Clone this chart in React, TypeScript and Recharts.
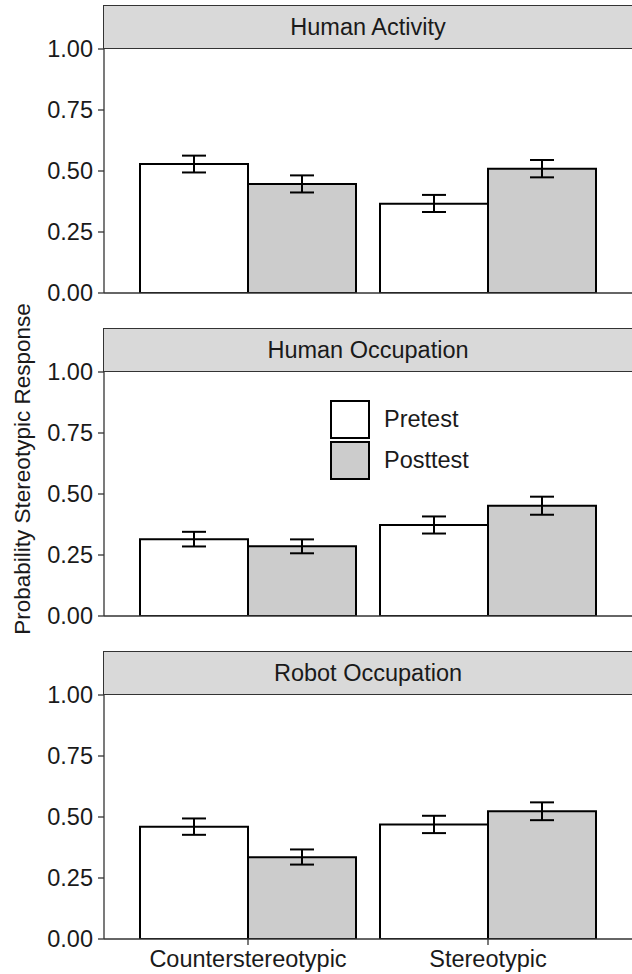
import { BarChart, Bar, XAxis, YAxis, ErrorBar } from 'recharts'

const conditions = ['Counterstereotypic', 'Stereotypic']
const panelTitles = ['Human Activity', 'Human Occupation', 'Robot Occupation']
const yTicks = [0, 0.25, 0.5, 0.75, 1]

// means, [Counterstereotypic, Stereotypic]
const humanActivityPre = [0.529, 0.366]
const humanActivityPost = [0.447, 0.509]
const humanActivityPreCI = [[0.494, 0.563], [0.332, 0.402]]
const humanActivityPostCI = [[0.412, 0.482], [0.474, 0.545]]

const humanOccupationPre = [0.315, 0.373]
const humanOccupationPost = [0.286, 0.452]
const humanOccupationPreCI = [[0.285, 0.345], [0.338, 0.408]]
const humanOccupationPostCI = [[0.257, 0.314], [0.415, 0.489]]

const robotOccupationPre = [0.46, 0.469]
const robotOccupationPost = [0.335, 0.524]
const robotOccupationPreCI = [[0.427, 0.494], [0.434, 0.505]]
const robotOccupationPostCI = [[0.305, 0.367], [0.487, 0.56]]

const FONT = '"Liberation Sans", Arial, Helvetica, sans-serif'
const TEXT = '#1a1a1a'
const AXIS = '#333333'
const POST_FILL = '#cccccc'
const FS = 23.5

const PLOT_LEFT = 104
const PLOT_H = 244
const STRIP_H = 44
const PANEL_PITCH = 323
const FIRST_STRIP = 5
const TOP_PAD = 14

function buildRows(pre: number[], post: number[], preCI: number[][], postCI: number[][]) {
  return conditions.map((c, i) => ({
    condition: c,
    pre: pre[i],
    post: post[i],
    preErr: [pre[i] - preCI[i][0], preCI[i][1] - pre[i]],
    postErr: [post[i] - postCI[i][0], postCI[i][1] - post[i]],
  }))
}

const panelData = [
  buildRows(humanActivityPre, humanActivityPost, humanActivityPreCI, humanActivityPostCI),
  buildRows(humanOccupationPre, humanOccupationPost, humanOccupationPreCI, humanOccupationPostCI),
  buildRows(robotOccupationPre, robotOccupationPost, robotOccupationPreCI, robotOccupationPostCI),
]

function Panel({ index }: { index: number }) {
  const isLast = index === panelTitles.length - 1
  const stripTop = FIRST_STRIP + index * PANEL_PITCH
  const plotTop = stripTop + STRIP_H
  const xAxisH = isLast ? 35 : 2
  const bottomPad = isLast ? 0 : 16
  const chartH = TOP_PAD + PLOT_H + xAxisH + bottomPad

  return (
    <>
      <div style={{ position: 'absolute', left: 0, top: plotTop - TOP_PAD }}>
        <BarChart
          width={632}
          height={chartH}
          data={panelData[index]}
          margin={{ top: TOP_PAD, right: 0, bottom: bottomPad, left: 0 }}
          barCategoryGap={12}
          barGap={0}
        >
          <XAxis
            dataKey="condition"
            height={xAxisH}
            padding={{ left: 24, right: 24 }}
            axisLine={{ stroke: AXIS, strokeWidth: 1.3 }}
            tickLine={isLast ? { stroke: AXIS, strokeWidth: 1.3 } : false}
            tick={isLast ? { fill: TEXT, fontSize: FS, fontFamily: FONT } : false}
            tickSize={6}
            tickMargin={5}
            interval={0}
          />
          <YAxis
            width={PLOT_LEFT}
            domain={[0, 1]}
            ticks={yTicks}
            tickFormatter={(v: number) => v.toFixed(2)}
            axisLine={{ stroke: AXIS, strokeWidth: 1.3 }}
            tickLine={{ stroke: AXIS, strokeWidth: 1.3 }}
            tick={{ fill: TEXT, fontSize: FS, fontFamily: FONT }}
            tickSize={6}
            tickMargin={5}
            interval={0}
            allowDataOverflow
          />
          <Bar dataKey="pre" fill="#ffffff" stroke="#000" strokeWidth={2} isAnimationActive={false}>
            <ErrorBar dataKey="preErr" width={12} stroke="#000" strokeWidth={2} direction="y" isAnimationActive={false} />
          </Bar>
          <Bar dataKey="post" fill={POST_FILL} stroke="#000" strokeWidth={2} isAnimationActive={false}>
            <ErrorBar dataKey="postErr" width={12} stroke="#000" strokeWidth={2} direction="y" isAnimationActive={false} />
          </Bar>
        </BarChart>
      </div>
      {/* facet strip */}
      <div
        style={{
          position: 'absolute',
          left: PLOT_LEFT - 1,
          top: stripTop,
          width: 540,
          height: STRIP_H - 2,
          background: '#d9d9d9',
          border: `1.5px solid ${AXIS}`,
          display: 'flex',
          alignItems: 'center',
          boxSizing: 'content-box',
        }}
      >
        <div style={{ width: 632 - PLOT_LEFT, textAlign: 'center', fontFamily: FONT, fontSize: FS, color: TEXT }}>
          {panelTitles[index]}
        </div>
      </div>
    </>
  )
}

function LegendBox() {
  const items = [
    { label: 'Pretest', fill: '#ffffff' },
    { label: 'Posttest', fill: POST_FILL },
  ]
  return (
    <div style={{ position: 'absolute', left: 330, top: 400 }}>
      {items.map((it, i) => (
        <div key={it.label} style={{ position: 'absolute', left: 0, top: i * 41, display: 'flex', alignItems: 'center' }}>
          <div style={{ width: 36, height: 35, background: it.fill, border: '2px solid #000' }} />
          <span style={{ marginLeft: 14, fontFamily: FONT, fontSize: FS, color: TEXT, whiteSpace: 'nowrap' }}>{it.label}</span>
        </div>
      ))}
    </div>
  )
}

export default function App() {
  return (
    <div style={{ position: 'absolute', left: 0, top: 0, width: 632, height: 974, background: '#fff', overflow: 'hidden' }}>
      {panelTitles.map((_, i) => (
        <Panel key={i} index={i} />
      ))}
      <LegendBox />
      <div
        style={{
          position: 'absolute',
          left: 23,
          top: 469,
          transform: 'translate(-50%, -50%) rotate(-90deg)',
          fontFamily: FONT,
          fontSize: 22.5,
          color: TEXT,
          whiteSpace: 'nowrap',
        }}
      >
        Probability Stereotypic Response
      </div>
    </div>
  )
}
